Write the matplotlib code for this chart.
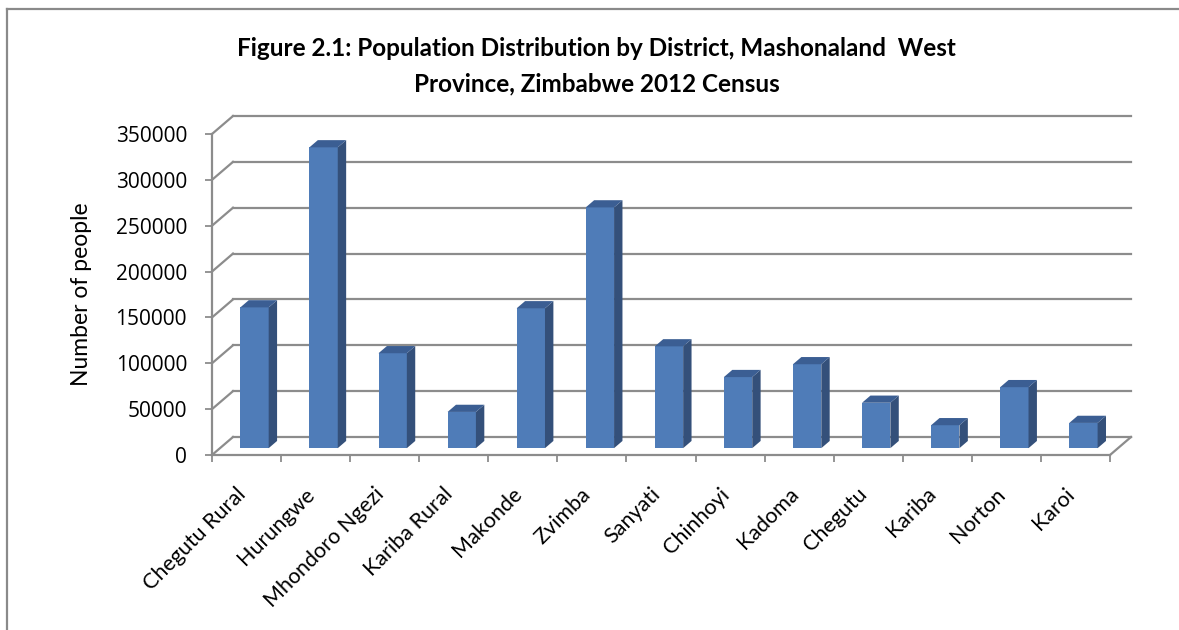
import numpy as np
import matplotlib
matplotlib.use("Agg")
import matplotlib.pyplot as plt
from matplotlib.patches import Polygon
from matplotlib.lines import Line2D
from matplotlib.transforms import offset_copy

districts = ["Chegutu Rural", "Hurungwe", "Mhondoro Ngezi", "Kariba Rural", "Makonde",
             "Zvimba", "Sanyati", "Chinhoyi", "Kadoma", "Chegutu", "Kariba", "Norton", "Karoi"]
population = [153500, 328000, 103500, 39500, 152500, 262500, 111000, 77500, 91500,
              49500, 25000, 66500, 27500]
yticks = [0, 50000, 100000, 150000, 200000, 250000, 300000, 350000]

title1 = "Figure 2.1: Population Distribution by District, Mashonaland  West"
title2 = "Province, Zimbabwe 2012 Census"
ylabel = "Number of people"

plt.rcParams['font.family'] = ['Lato', 'DejaVu Sans']

W, H = 1179, 630
fig = plt.figure(figsize=(W / 100, H / 100), dpi=100)
fig.patch.set_facecolor('white')

# front plane of the axes, in pixels
x0, x1, y0, y1 = 212, 1110, 455, 134
ax = fig.add_axes([x0 / W, (H - y0) / H, (x1 - x0) / W, (y0 - y1) / H])
n = len(districts)
ymax = 350000
ax.set_xlim(0, n)
ax.set_ylim(0, ymax)
ax.patch.set_alpha(0)

grid_c = '#8c8c8c'
# depth offset of the back wall (data units)
DX = 21 / ((x1 - x0) / n)
DY = 18 / (y0 - y1) * ymax

# back wall gridlines + left wall diagonals
for v in yticks:
    ax.plot([DX, n + DX], [v + DY, v + DY], color=grid_c, lw=1.6, clip_on=False, zorder=1)
    ax.plot([0, DX], [v, v + DY], color=grid_c, lw=1.6, clip_on=False, zorder=1)
# floor right edge
ax.plot([n, n + DX], [0, DY], color=grid_c, lw=1.6, clip_on=False, zorder=1)

# 3d-ish bars
f0, f1 = 0.38, 0.78
bw = 0.41
front_c, side_c, top_c = '#4f7cb8', '#34507a', '#3b5e93'
xc = np.arange(n) + 0.5 + f0 * DX
b0 = f0 * DY
ax.bar(xc, population, bw, bottom=b0, color=front_c, zorder=3, clip_on=False)
d = f1 - f0
for x, h in zip(xc, population):
    xl, xr = x - bw / 2, x + bw / 2
    top = b0 + h
    side = Polygon([(xr, b0), (xr + d * DX, b0 + d * DY), (xr + d * DX, top + d * DY), (xr, top)],
                   closed=True, facecolor=side_c, edgecolor='none', zorder=3, clip_on=False)
    cap = Polygon([(xl, top), (xr, top), (xr + d * DX, top + d * DY), (xl + d * DX, top + d * DY)],
                  closed=True, facecolor=top_c, edgecolor='none', zorder=3, clip_on=False)
    ax.add_patch(side)
    ax.add_patch(cap)

for s in ['top', 'right']:
    ax.spines[s].set_visible(False)
for s in ['left', 'bottom']:
    ax.spines[s].set_color(grid_c)
    ax.spines[s].set_linewidth(1.6)
    ax.spines[s].set_zorder(4)

ax.set_yticks(yticks)
ax.set_yticklabels([str(v) for v in yticks], fontsize=15, family='Open Sans')
ax.tick_params(axis='y', length=5, width=1.3, color=grid_c, pad=13)
ax.set_xticks(np.arange(n + 1))
ax.set_xticklabels([])
ax.tick_params(axis='x', length=5, width=1.3, color=grid_c)

lab_tr = offset_copy(ax.transData, fig=fig, x=-4, y=-36, units='dots')
for i, name in enumerate(districts):
    ax.text(i + 0.5, 0, name, transform=lab_tr, rotation=45, rotation_mode='anchor',
            ha='right', va='center', fontsize=15.5)

fig.text(596 / W, 1 - 48 / H, title1, ha='center', va='center', fontsize=17.5, fontweight='bold')
fig.text(597 / W, 1 - 84 / H, title2, ha='center', va='center', fontsize=17.5, fontweight='bold')
fig.text(81 / W, 1 - 294 / H, ylabel, rotation=90, ha='center', va='center', fontsize=16.5)

# outer frame (top and left edges visible)
fig.add_artist(Line2D([7 / W, 7 / W], [0, 1 - 9 / H], color='#8a8a8a', lw=1.6))
fig.add_artist(Line2D([7 / W, 1], [1 - 9 / H, 1 - 9 / H], color='#8a8a8a', lw=1.6))

fig.savefig("out.png", dpi=100)
